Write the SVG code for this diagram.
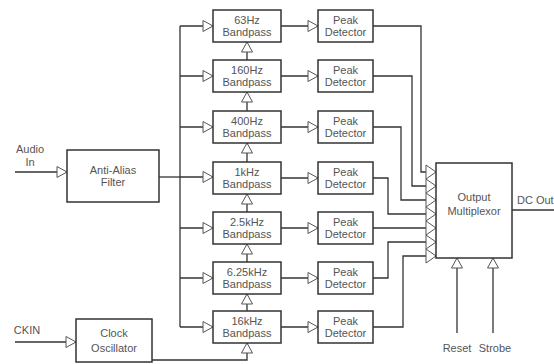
<svg xmlns="http://www.w3.org/2000/svg" width="554" height="364" viewBox="0 0 554 364">
  <style>
    .box { fill: #fff; stroke: #333; stroke-width: 1.5; }
    .wire { fill: none; stroke: #333; stroke-width: 1.3; }
    .arr { marker-end: url(#tri); }
    .arrm { marker-end: url(#triM); }
    text { font-family: "Liberation Sans", Arial, sans-serif; font-size: 11px; fill: #555; text-anchor: middle; }
    .l { text-anchor: start; }
  </style>
  <defs>
    <!-- open triangular arrowhead, tip at the path end -->
    <marker id="tri" viewBox="-1 -1 12 13" refX="10" refY="5.5" markerWidth="12" markerHeight="13" markerUnits="userSpaceOnUse" orient="auto">
      <path d="M0,0 L10,5.5 L0,11 Z" fill="#fff" stroke="#555" stroke-width="1"/>
    </marker>
    <!-- taller variant stacked on the multiplexor inputs -->
    <marker id="triM" viewBox="-1 -1 12 16" refX="10" refY="7" markerWidth="12" markerHeight="16" markerUnits="userSpaceOnUse" orient="auto">
      <path d="M0,0 L10,7 L0,14 Z" fill="#fff" stroke="#555" stroke-width="1"/>
    </marker>
  </defs>

  <!-- connectors -->
  <g id="connectors">
    <!-- inputs -->
    <path class="wire arr" d="M15,172 H67"/>
    <path class="wire arr" d="M15,342 H76"/>
    <!-- filter output onto the bus -->
    <path class="wire" d="M159,177 H180"/>
    <path class="wire" d="M180,26 V327"/>
    <path class="wire arr" d="M180,26 H213"/>
    <path class="wire arr" d="M180,76 H213"/>
    <path class="wire arr" d="M180,127 H213"/>
    <path class="wire arr" d="M180,177 H213"/>
    <path class="wire arr" d="M180,228 H213"/>
    <path class="wire arr" d="M180,278 H213"/>
    <path class="wire arr" d="M180,327 H213"/>
    <!-- clock chain through the bandpass filters -->
    <path class="wire arr" d="M152,360 H247 V343"/>
    <path class="wire arr" d="M247,311 V294"/>
    <path class="wire arr" d="M247,262 V244"/>
    <path class="wire arr" d="M247,212 V194"/>
    <path class="wire arr" d="M247,162 V143"/>
    <path class="wire arr" d="M247,111 V92"/>
    <path class="wire arr" d="M247,60 V42"/>
    <!-- bandpass to peak detector -->
    <path class="wire arr" d="M281,26 H318"/>
    <path class="wire arr" d="M281,76 H318"/>
    <path class="wire arr" d="M281,127 H318"/>
    <path class="wire arr" d="M281,178 H318"/>
    <path class="wire arr" d="M281,228 H318"/>
    <path class="wire arr" d="M281,278 H318"/>
    <path class="wire arr" d="M281,327 H318"/>
    <!-- peak detectors to multiplexor -->
    <path class="wire arrm" d="M373,26 H421 V172 H436"/>
    <path class="wire arrm" d="M373,76 H412 V186 H436"/>
    <path class="wire arrm" d="M373,127 H401 V200 H436"/>
    <path class="wire arrm" d="M373,178 H388 V214 H436"/>
    <path class="wire arrm" d="M373,228 H436"/>
    <path class="wire arrm" d="M373,278 H388 V242 H436"/>
    <path class="wire arrm" d="M373,327 H403 V256 H436"/>
    <!-- multiplexor control and output -->
    <path class="wire arr" d="M457,333 V258"/>
    <path class="wire arr" d="M493,333 V258"/>
    <path class="wire" d="M512,210 H554"/>
  </g>

  <!-- labels on the signal lines -->
  <g id="io-labels">
    <text x="30" y="153">Audio</text>
    <text x="30" y="166">In</text>
    <text x="27" y="334">CKIN</text>
    <text x="457" y="352">Reset</text>
    <text x="495" y="352">Strobe</text>
    <text class="l" x="517" y="204">DC Out</text>
  </g>

  <g id="anti-alias">
    <rect class="box" x="67" y="150" width="92" height="52"/>
    <text x="113" y="174">Anti-Alias</text>
    <text x="113" y="186">Filter</text>
  </g>

  <g id="clock">
    <rect class="box" x="76" y="319" width="76" height="43"/>
    <text x="114" y="337">Clock</text>
    <text x="114" y="352">Oscillator</text>
  </g>

  <g id="bp-63">
    <rect class="box" x="213" y="10" width="68" height="32"/>
    <text x="247" y="24">63Hz</text><text x="247" y="36">Bandpass</text>
  </g>
  <g id="bp-160">
    <rect class="box" x="213" y="60" width="68" height="32"/>
    <text x="247" y="74">160Hz</text><text x="247" y="86">Bandpass</text>
  </g>
  <g id="bp-400">
    <rect class="box" x="213" y="111" width="68" height="32"/>
    <text x="247" y="125">400Hz</text><text x="247" y="137">Bandpass</text>
  </g>
  <g id="bp-1k">
    <rect class="box" x="213" y="162" width="68" height="32"/>
    <text x="247" y="176">1kHz</text><text x="247" y="188">Bandpass</text>
  </g>
  <g id="bp-2k5">
    <rect class="box" x="213" y="212" width="68" height="32"/>
    <text x="247" y="226">2.5kHz</text><text x="247" y="238">Bandpass</text>
  </g>
  <g id="bp-6k25">
    <rect class="box" x="213" y="262" width="68" height="32"/>
    <text x="247" y="276">6.25kHz</text><text x="247" y="288">Bandpass</text>
  </g>
  <g id="bp-16k">
    <rect class="box" x="213" y="311" width="68" height="32"/>
    <text x="247" y="325">16kHz</text><text x="247" y="337">Bandpass</text>
  </g>

  <g id="pd-1">
    <rect class="box" x="318" y="10" width="55" height="32"/>
    <text x="345.5" y="24">Peak</text><text x="345.5" y="36">Detector</text>
  </g>
  <g id="pd-2">
    <rect class="box" x="318" y="60" width="55" height="32"/>
    <text x="345.5" y="74">Peak</text><text x="345.5" y="86">Detector</text>
  </g>
  <g id="pd-3">
    <rect class="box" x="318" y="111" width="55" height="32"/>
    <text x="345.5" y="125">Peak</text><text x="345.5" y="137">Detector</text>
  </g>
  <g id="pd-4">
    <rect class="box" x="318" y="162" width="55" height="32"/>
    <text x="345.5" y="176">Peak</text><text x="345.5" y="188">Detector</text>
  </g>
  <g id="pd-5">
    <rect class="box" x="318" y="212" width="55" height="32"/>
    <text x="345.5" y="226">Peak</text><text x="345.5" y="238">Detector</text>
  </g>
  <g id="pd-6">
    <rect class="box" x="318" y="262" width="55" height="32"/>
    <text x="345.5" y="276">Peak</text><text x="345.5" y="288">Detector</text>
  </g>
  <g id="pd-7">
    <rect class="box" x="318" y="311" width="55" height="32"/>
    <text x="345.5" y="325">Peak</text><text x="345.5" y="337">Detector</text>
  </g>

  <g id="multiplexor">
    <rect class="box" x="436" y="163" width="76" height="95"/>
    <text x="474" y="201">Output</text>
    <text x="474" y="215">Multiplexor</text>
  </g>
</svg>
